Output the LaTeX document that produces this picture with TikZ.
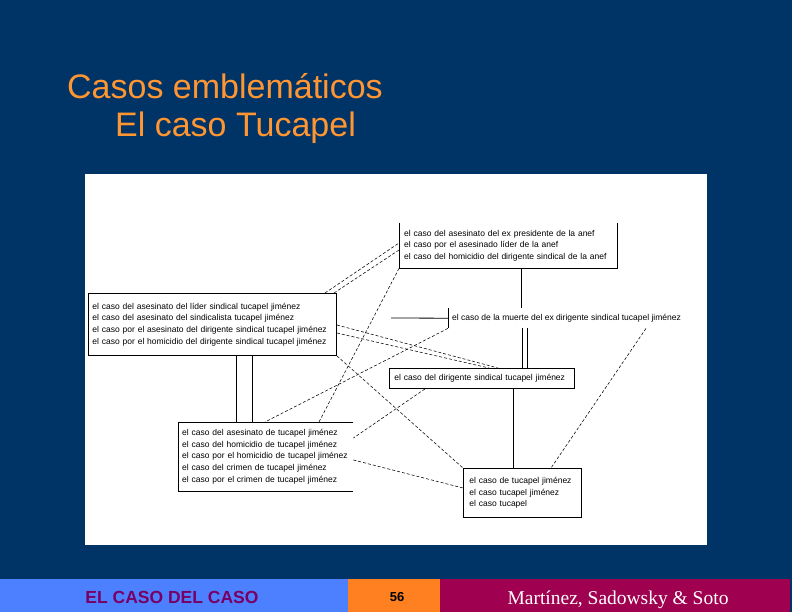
\documentclass[tikz,border=0pt]{standalone}
\usepackage{fontspec}
\setmainfont{Liberation Sans}
\newfontfamily\timesfont{Liberation Serif}
\usepackage{xcolor}
\usetikzlibrary{calc}
\definecolor{slidebg}{RGB}{0,51,102}
\definecolor{titleorange}{RGB}{255,150,50}
\definecolor{footblue}{RGB}{77,128,255}
\definecolor{footorange}{RGB}{255,128,32}
\definecolor{footmaroon}{RGB}{160,0,80}
\definecolor{footpurple}{RGB}{120,0,100}

\begin{document}
\begin{tikzpicture}[x=1pt,y=-1pt,
  caso/.style={anchor=north west,inner xsep=5pt,inner ysep=0pt,align=left,
    font=\fontsize{8.5}{11.7}\selectfont},
  frame/.style={draw=black,line width=0.9pt},
  tie/.style={draw=black,line width=0.8pt},
  rel/.style={draw=black,line width=0.55pt,dash pattern=on 3pt off 2pt},
  title/.style={anchor=base west,inner sep=0pt,text=titleorange,font=\fontsize{34}{40}\selectfont}]
  \useasboundingbox (0,0) rectangle (792,612);
  % slide
  \fill[slidebg] (0,0) rectangle (792,612);
  \node[title] (T1) at (67,99)  {Casos emblemáticos};
  \node[title] (T2) at (115,137) {El caso Tucapel};
  \fill[white] (85,174) rectangle (707,545);
  % the cases
  \node[caso,text width=208pt,minimum height=45pt] (A) at (399,223)
    {el caso del asesinato del ex presidente de la anef\\
     el caso por el asesinado líder de la anef\\
     el caso del homicidio del dirigente sindical de la anef};
  \node[caso,inner xsep=4pt,text width=240pt,minimum height=62pt,frame] (B) at (88,293)
    {el caso del asesinato del líder sindical tucapel jiménez\\
     el caso del asesinato del sindicalista tucapel jiménez\\
     el caso por el asesinato del dirigente sindical tucapel jiménez\\
     el caso por el homicidio del dirigente sindical tucapel jiménez};
  \node[caso,inner xsep=4pt,text width=167pt,minimum height=69pt] (C) at (178,422)
    {el caso del asesinato de tucapel jiménez\\
     el caso del homicidio de tucapel jiménez\\
     el caso por el homicidio de tucapel jiménez\\
     el caso del crimen de tucapel jiménez\\
     el caso por el crimen de tucapel jiménez};
  \node[caso,inner xsep=4pt,minimum height=20pt] (D) at (448,308)
    {el caso de la muerte del ex dirigente sindical tucapel jiménez};
  \node[caso,text width=175pt,minimum height=20pt,frame] (E) at (389,368)
    {el caso del dirigente sindical tucapel jiménez};
  \node[caso,inner xsep=6pt,text width=106pt,minimum height=49pt,frame] (F) at (463,468)
    {el caso de tucapel jiménez\\
     el caso tucapel jiménez\\
     el caso tucapel};
  % open borders
  \draw[frame] (A.north west) |- (A.south east) -- (A.north east);
  \draw[frame] (C.north east) -- (C.north west) |- (C.south east);
  \draw[frame] (D.north west) -- (D.south west);
  \coordinate (dl) at (391,318);
  \draw[tie] (D.west) -- (dl);
  % solid ties
  \draw[tie] ([xshift=122pt]A.south west) -- ([xshift=73pt]D.north west);
  \draw[tie] ([xshift=74pt]D.south west) -- ([xshift=133pt]E.north west);
  \draw[tie] ([xshift=79pt]D.south west) -- ([xshift=138pt]E.north west);
  \draw[tie] ([xshift=124pt]E.south west) -- ([xshift=50pt]F.north west);
  \draw[tie] ([xshift=148pt]B.south west) -- ([xshift=58pt]C.north west);
  \draw[tie] ([xshift=164pt]B.south west) -- ([xshift=74pt]C.north west);
  % dashed relations
  \draw[rel] ([xshift=237pt]B.north west) -- ([yshift=-20pt]A.north west);
  \draw[rel] ([xshift=246pt]B.north west) -- ([yshift=-27pt]A.north west);
  \draw[rel] ([yshift=-32pt]B.north east) -- ([xshift=109pt]E.north west);
  \draw[rel] ([yshift=-40pt]B.north east) -- ([xshift=100pt]E.north west);
  \draw[rel] (B.south east) -- (F.north west);
  \draw[rel] (A.south west) -- ([xshift=141pt]C.north west);
  \draw[rel] (D.south west) -- ([xshift=87pt]C.north west);
  \draw[rel] ([xshift=36pt]E.south west) -- ([yshift=-16pt]C.north east);
  \draw[rel] ([yshift=-38pt]C.north east) -- ([yshift=-20pt]F.north west);
  \draw[rel] ([xshift=198pt]D.south west) -- ([xshift=88pt]F.north west);
  % footer
  \fill[footblue]   (0,579)   rectangle (348,612);
  \fill[footorange] (348,579) rectangle (440,612);
  \fill[footmaroon] (440,579) rectangle (790,612);
  \node[anchor=base,text=footpurple,font=\fontsize{17.5}{20}\selectfont\bfseries] (F1) at (172,603) {EL CASO DEL CASO};
  \node[anchor=base,text=black,font=\fontsize{13}{15}\selectfont\bfseries] (F2) at (397,601) {56};
  \node[anchor=base,text=white,font=\timesfont\fontsize{19.5}{22}\selectfont] (F3) at (618,604) {Martínez, Sadowsky \& Soto};
\end{tikzpicture}
\end{document}
